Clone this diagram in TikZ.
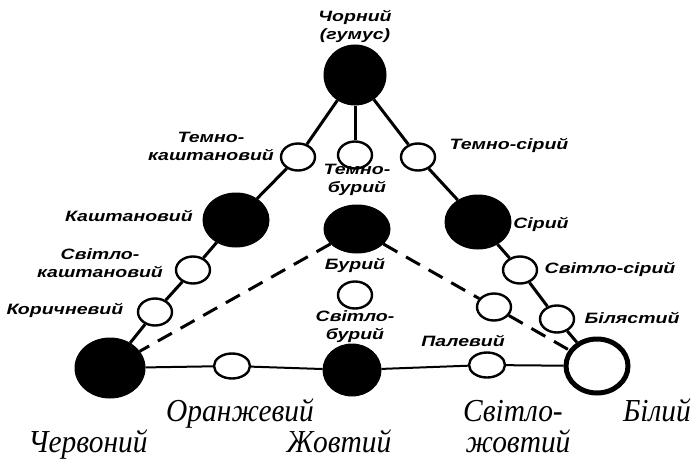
\documentclass[tikz,border=0pt]{standalone}
\usepackage{fontspec}
\usetikzlibrary{shapes.geometric}
\newfontfamily\labfont[FakeStretch=1.3]{Liberation Sans Bold Italic}
\newfontfamily\botfont[FakeStretch=0.92]{Liberation Serif Italic}
\begin{document}
\begin{tikzpicture}[x=1pt,y=-1pt,
  blk/.style={ellipse,draw,fill=black,line width=1pt,inner sep=0pt,minimum width=66pt,minimum height=54pt},
  sml/.style={ellipse,draw,fill=white,line width=2.4pt,inner sep=0pt,minimum width=34pt,minimum height=27pt},
  wht/.style={ellipse,draw,fill=white,line width=5pt,inner sep=0pt,minimum width=62pt,minimum height=54pt},
  lab/.style={inner sep=0pt,font=\labfont\fontsize{15}{18}\selectfont,align=center},
  blab/.style={inner sep=0pt,anchor=base,font=\botfont\fontsize{32}{34}\selectfont},
  conn/.style={line width=3pt},
  bconn/.style={line width=2pt},
  dconn/.style={line width=3pt,dash pattern=on 16pt off 10pt}]
\useasboundingbox (0,0) rectangle (692,460);
% nodes
\node[blk,minimum width=62pt,minimum height=60pt] (T) at (355,75) {};
\node[sml] (TK) at (298,157) {};
\node[sml] (TB) at (355,155) {};
\node[sml] (TS) at (418,157) {};
\node[blk] (K) at (236,220) {};
\node[blk,minimum height=48pt] (B) at (357,229) {};
\node[blk] (S) at (478,222) {};
\node[sml] (SK) at (193,270) {};
\node[sml] (SS) at (520,270) {};
\node[sml] (Kor) at (155,312) {};
\node[sml] (Bil) at (557,319) {};
\node[sml] (SB) at (355,295) {};
\node[sml] (P) at (494,307) {};
\node[blk,minimum width=70pt,minimum height=60pt] (Ch) at (110,368) {};
\node[sml,minimum width=36pt,minimum height=25pt] (O) at (232,366) {};
\node[blk,minimum width=58pt,minimum height=52pt] (Zh) at (352,370) {};
\node[sml,minimum width=36pt,minimum height=25pt] (SZh) at (487,365) {};
\node[wht] (W) at (597,366) {};
% connectors
\draw[conn] (T) -- (TK);
\draw[conn] (T) -- (TB);
\draw[conn] (T) -- (TS);
\draw[conn] (TK) -- (K);
\draw[conn] (K) -- (SK);
\draw[conn] (SK) -- (Kor);
\draw[conn] (Kor) -- (Ch);
\draw[conn] (TS) -- (S);
\draw[conn] (S) -- (SS);
\draw[conn] (SS) -- (Bil);
\draw[conn] (Bil) -- (W);
\draw[bconn] (Ch) -- (O);
\draw[bconn] (O) -- (Zh);
\draw[bconn] (Zh) -- (SZh);
\draw[bconn] (SZh) -- (W);
\draw[dconn] (B) -- (Ch);
\draw[dconn] (B) -- (P);
\draw[dconn] (P) -- (W);
% small labels
\node[lab] (lT) at (355,26) {Чорний\\(гумус)};
\node[lab] (lTK) at (211,146) {Темно-\\каштановий};
\node[lab] (lTS) at (509,145) {Темно-сірий};
\node[lab] (lTB) at (357,180) {Темно-\\бурий};
\node[lab] (lK) at (129,216) {Каштановий};
\node[lab] (lS) at (541,224) {Сірий};
\node[lab] (lSK) at (100,263) {Світло-\\каштановий};
\node[lab] (lB) at (355,265) {Бурий};
\node[lab] (lSS) at (610,269) {Світло-сірий};
\node[lab] (lKor) at (65,310) {Коричневий};
\node[lab] (lBil) at (632,318) {Білястий};
\node[lab] (lSB) at (355,327) {Світло-\\бурий};
\node[lab] (lP) at (463,341) {Палевий};
% bottom labels
\node[blab] (lO) at (240,421) {Оранжевий};
\node[blab] (lSZh1) at (513,421) {Світло-};
\node[blab] (lW) at (657,421) {Білий};
\node[blab] (lCh) at (88,452) {Червоний};
\node[blab] (lZh) at (339,452) {Жовтий};
\node[blab] (lSZh2) at (518,452) {жовтий};
\end{tikzpicture}
\end{document}
